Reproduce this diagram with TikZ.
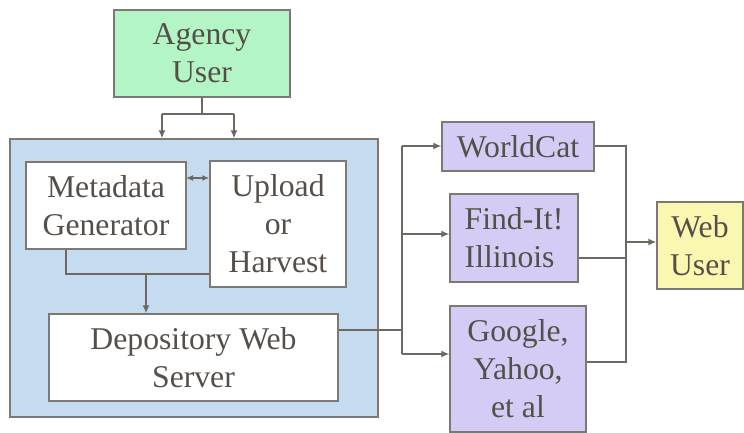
\documentclass[tikz,border=0pt]{standalone}
\usepackage{fontspec}
\newfontfamily\tms{Liberation Serif}
\usetikzlibrary{arrows.meta}
\definecolor{txt}{HTML}{564F49}
\definecolor{bord}{HTML}{7D7874}
\definecolor{conncol}{HTML}{6E6862}
\definecolor{cgreen}{HTML}{B3F5C5}
\definecolor{cblue}{HTML}{C5DCF0}
\definecolor{cpurple}{HTML}{D5CCF5}
\definecolor{cyellow}{HTML}{FAF8B0}
\tikzset{
  box/.style={draw=bord, line width=1.4pt, rectangle, inner sep=0pt, align=center,
    text=txt, font=\tms\fontsize{31.7}{38}\selectfont},
  conn/.style={draw=conncol, line width=1.4pt},
  arr/.style={conn, -{Latex[length=8pt,width=7pt]}},
  darr/.style={conn, {Latex[length=7pt,width=6pt]}-{Latex[length=7pt,width=6pt]}},
}
\begin{document}
\begin{tikzpicture}[x=1pt,y=-1pt]
\useasboundingbox (0,0) rectangle (744,433);
\fill[white] (0,0) rectangle (744,433);
% container
\node[box, fill=cblue, minimum width=368pt, minimum height=278pt] (cont) at (194,278) {};
\node[box, fill=cgreen, minimum width=176pt, minimum height=87pt] (agency) at (202,53.5) {Agency\\User};
\node[box, fill=white, minimum width=160pt, minimum height=87pt] (meta) at (106,205.5) {Metadata\\Generator};
\node[box, fill=white, minimum width=136pt, minimum height=126pt] (upload) at (278,224) {Upload\\or\\Harvest};
\node[box, fill=white, minimum width=289pt, minimum height=87pt] (dep) at (193.5,357.5) {Depository Web\\Server};
\node[box, fill=cpurple, minimum width=152pt, minimum height=49pt] (wc) at (518,146.5) {WorldCat};
\node[box, fill=cpurple, minimum width=128pt, minimum height=88pt, align=left] (fi) at (514,238) {Find-It!\\Illinois};
\node[box, fill=cpurple, minimum width=136pt, minimum height=126pt] (gg) at (518,369) {Google,\\Yahoo,\\et al};
\node[box, fill=cyellow, minimum width=86pt, minimum height=87pt] (wu) at (700,245.5) {Web\\User};
% agency to container
\coordinate (ajL) at (162,114);
\coordinate (ajR) at (234,114);
\draw[conn] (agency.south) -- (agency.south |- ajL);
\draw[conn] (ajL) -- (ajR);
\draw[arr] (ajL) -- (ajL |- cont.north);
\draw[arr] (ajR) -- (ajR |- cont.north);
% meta <-> upload
\coordinate (dm) at (186,178);
\draw[darr] (dm) -- (dm -| upload.west);
% meta/upload to depository
\coordinate (mj) at (66,274);
\coordinate (mk) at (146,274);
\draw[conn] (mj |- meta.south) -- (mj) -- (mj -| upload.west);
\draw[arr] (mk) -- (mk |- dep.north);
% depository to outputs
\coordinate (dj) at (402,330);
\coordinate (vt) at (402,146);
\coordinate (vf) at (402,234);
\coordinate (vg) at (402,354);
\draw[conn] (dj -| dep.east) -- (dj);
\draw[conn] (vt) -- (vg);
\draw[arr] (vt) -- (vt -| wc.west);
\draw[arr] (vf) -- (vf -| fi.west);
\draw[arr] (vg) -- (vg -| gg.west);
% outputs to web user
\coordinate (rt) at (626,146);
\coordinate (rf) at (626,258);
\coordinate (rg) at (626,362);
\coordinate (rw) at (626,242);
\draw[conn] (rt -| wc.east) -- (rt) -- (rg) -- (rg -| gg.east);
\draw[conn] (rf -| fi.east) -- (rf);
\draw[arr] (rw) -- (rw -| wu.west);
\end{tikzpicture}
\end{document}
